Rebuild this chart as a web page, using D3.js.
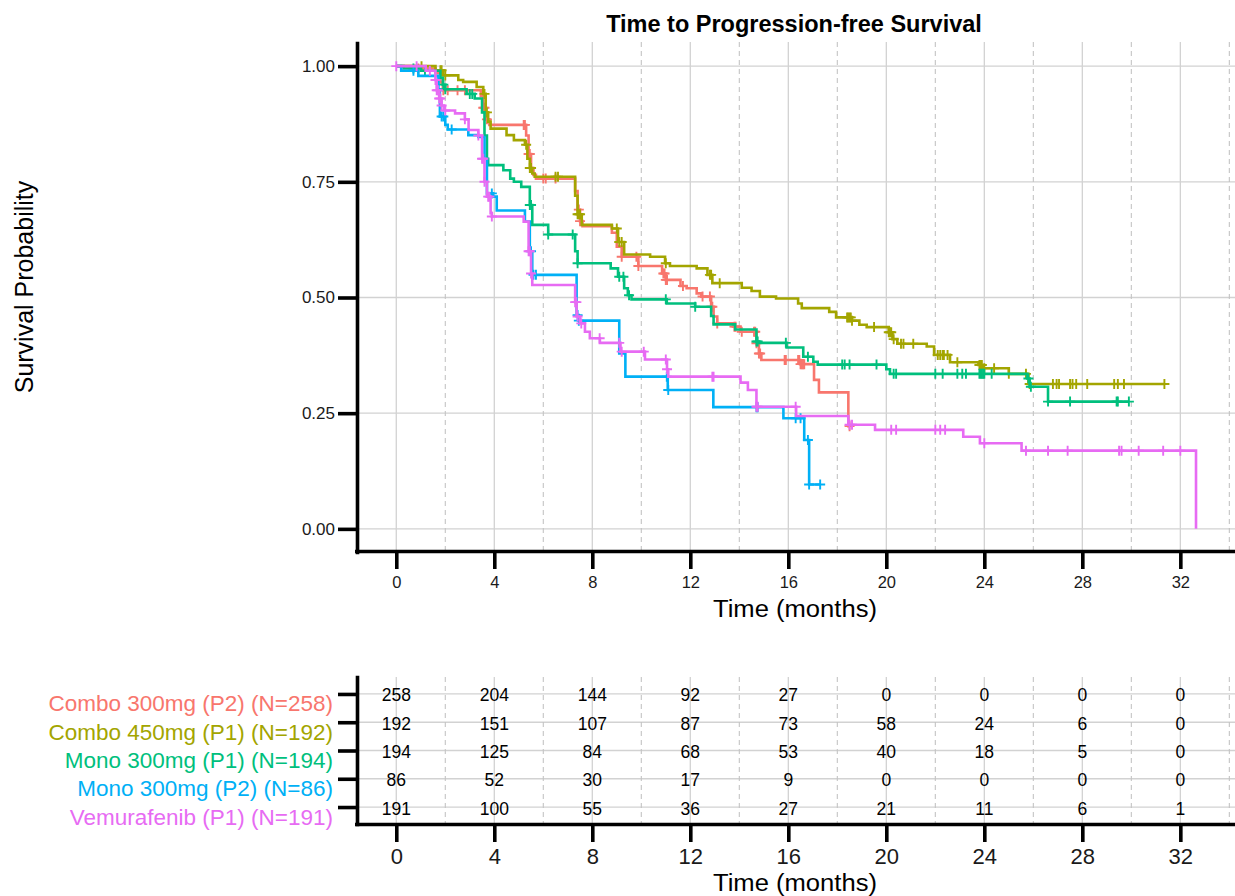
<!DOCTYPE html>
<html>
<head>
<meta charset="utf-8">
<script src="https://cdn.jsdelivr.net/npm/d3@7"></script>
<style>
  body { margin: 0; background: #ffffff; }
  svg { display: block; }
</style>
</head>
<body>
<svg id="chart" width="1235" height="896"></svg>
<script>
// ---- Groups ----
const groupLabels = ["Combo 300mg (P2)", "Combo 450mg (P1)", "Mono 300mg (P1)", "Mono 300mg (P2)", "Vemurafenib (P1)"];
const groupN = [258, 192, 194, 86, 191];
const groupColors = ["#F8766D", "#A3A500", "#00BF7D", "#00B0F6", "#E76BF3"];

// ---- Kaplan-Meier step estimates (time in months, survival probability) ----
const combo300Times = [0, 0.9, 1.6, 1.8, 1.9, 3.45, 3.55, 3.65, 3.8, 5.3, 5.4, 5.5, 5.6, 5.7, 7.3, 7.4, 7.5, 7.6, 8.8, 9.0, 9.2, 9.88, 10.85, 11.0, 11.6, 11.85, 12.26, 12.45, 12.85, 12.95, 13.1, 13.76, 14.05, 14.7, 14.8, 14.9, 16.48, 17.05, 17.25, 18.45];
const combo300Surv  = [1, 0.995, 0.985, 0.965, 0.948, 0.935, 0.91, 0.885, 0.873, 0.85, 0.81, 0.78, 0.765, 0.757, 0.73, 0.69, 0.665, 0.654, 0.64, 0.61, 0.588, 0.568, 0.552, 0.538, 0.525, 0.52, 0.509, 0.502, 0.48, 0.459, 0.444, 0.437, 0.426, 0.401, 0.379, 0.365, 0.356, 0.322, 0.295, 0.222];
const combo300Censor = [0.9, 1.92, 2.1, 2.5, 2.8, 3.55, 3.6, 3.7, 5.2, 5.25, 5.4, 5.45, 6.0, 6.1, 6.5, 7.45, 7.5, 9.2, 9.8, 9.88, 10.9, 10.95, 11.0, 11.05, 11.7, 12.5, 12.8, 12.85, 12.9, 13.1, 13.8, 13.85, 14.1, 14.6, 14.65, 14.7, 14.8, 14.85, 15.85, 15.9, 16.4, 16.45, 16.5, 16.55, 16.6, 16.65, 18.5];
const combo300End = 18.5;

const combo450Times = [0, 1.6, 1.92, 2.53, 2.73, 3.28, 3.55, 3.65, 3.75, 3.85, 4.5, 4.8, 5.25, 5.35, 5.45, 5.55, 5.65, 7.3, 7.4, 7.57, 8.8, 9.05, 9.3, 10.36, 10.97, 11.17, 12.26, 12.7, 12.9, 14.1, 14.5, 14.84, 15.5, 16.4, 16.55, 17.67, 17.95, 18.6, 18.9, 19.2, 20.1, 20.25, 20.45, 21.65, 21.95, 22.6, 23.76, 23.95, 25.0, 25.8];
const combo450Surv  = [1, 0.991, 0.98, 0.97, 0.966, 0.955, 0.94, 0.90, 0.88, 0.865, 0.851, 0.84, 0.83, 0.80, 0.78, 0.768, 0.761, 0.72, 0.68, 0.657, 0.649, 0.62, 0.593, 0.588, 0.574, 0.568, 0.563, 0.549, 0.531, 0.521, 0.514, 0.502, 0.498, 0.487, 0.477, 0.469, 0.457, 0.45, 0.441, 0.436, 0.425, 0.41, 0.40, 0.394, 0.376, 0.36, 0.354, 0.347, 0.335, 0.313];
const combo450Censor = [1.03, 1.8, 1.85, 2.0, 3.6, 3.7, 5.3, 5.45, 5.5, 6.5, 6.6, 7.4, 7.45, 7.5, 9.0, 9.1, 9.2, 11.0, 12.8, 12.85, 13.2, 18.4, 18.45, 18.5, 18.55, 18.6, 19.5, 20.1, 20.15, 20.2, 20.3, 20.6, 20.7, 21.1, 22.1, 22.2, 22.3, 22.35, 22.5, 22.9, 23.8, 23.85, 23.9, 24.0, 24.4, 25.0, 25.7, 25.85, 26.8, 26.95, 27.05, 27.5, 27.6, 27.75, 28.2, 29.3, 29.45, 29.7, 31.35];
const combo450End = 31.35;

const monoP1Times = [0, 0.3, 1.0, 1.8, 1.9, 2.0, 2.87, 3.2, 3.5, 3.6, 3.7, 3.75, 4.37, 4.65, 4.8, 5.1, 5.45, 5.55, 6.2, 7.3, 7.4, 8.75, 9.05, 9.3, 9.45, 9.6, 11.04, 12.2, 12.85, 12.95, 13.83, 14.7, 14.8, 15.93, 16.61, 17.02, 17.2, 20.0, 20.15, 25.75, 25.85, 26.6];
const monoP1Surv  = [1, 0.995, 0.99, 0.975, 0.96, 0.95, 0.94, 0.93, 0.90, 0.85, 0.80, 0.786, 0.775, 0.757, 0.75, 0.739, 0.70, 0.657, 0.636, 0.60, 0.574, 0.563, 0.545, 0.52, 0.505, 0.496, 0.487, 0.48, 0.46, 0.442, 0.431, 0.405, 0.402, 0.392, 0.372, 0.361, 0.355, 0.345, 0.335, 0.325, 0.307, 0.275];
const monoP1Censor = [0.7, 1.17, 1.92, 2.0, 3.0, 3.1, 5.45, 5.5, 6.2, 7.2, 7.4, 9.1, 9.27, 9.5, 11.0, 12.2, 14.7, 14.75, 15.9, 16.8, 18.2, 18.3, 18.5, 19.6, 20.3, 20.4, 22.0, 22.3, 22.9, 23.1, 23.25, 23.8, 23.85, 23.9, 23.95, 24.0, 24.3, 25.8, 25.9, 26.6, 27.5, 29.4, 29.45, 29.9];
const monoP1End = 29.9;

const monoP2Times = [0, 0.2, 0.9, 1.72, 1.78, 2.0, 2.1, 2.94, 3.35, 3.6, 3.7, 3.95, 4.1, 5.25, 5.45, 5.55, 7.36, 7.45, 9.1, 9.35, 11.08, 12.94, 15.8, 16.65, 16.85];
const monoP2Surv  = [1, 0.99, 0.979, 0.95, 0.891, 0.873, 0.863, 0.851, 0.847, 0.80, 0.725, 0.718, 0.688, 0.664, 0.60, 0.549, 0.462, 0.45, 0.379, 0.329, 0.30, 0.263, 0.239, 0.192, 0.096];
const monoP2Censor = [0.7, 1.85, 1.92, 2.26, 3.9, 5.5, 5.6, 5.7, 7.4, 7.45, 11.04, 11.1, 14.7, 14.75, 16.3, 16.5, 16.8, 16.85, 17.3];
const monoP2End = 17.3;

const vemuTimes = [0, 1.2, 1.6, 1.65, 1.75, 1.85, 1.95, 2.4, 2.8, 2.95, 3.35, 3.5, 3.6, 3.7, 3.85, 3.9, 5.2, 5.4, 5.5, 5.55, 7.3, 7.36, 7.5, 7.7, 7.9, 8.31, 9.15, 10.15, 11.05, 11.1, 14.05, 14.35, 14.7, 16.32, 18.45, 19.54, 23.14, 23.82, 25.52, 32.64];
const vemuSurv  = [1, 0.99, 0.97, 0.948, 0.93, 0.915, 0.904, 0.898, 0.885, 0.862, 0.85, 0.80, 0.75, 0.718, 0.682, 0.675, 0.664, 0.60, 0.552, 0.527, 0.49, 0.459, 0.444, 0.426, 0.412, 0.402, 0.383, 0.366, 0.345, 0.329, 0.316, 0.30, 0.264, 0.244, 0.225, 0.214, 0.199, 0.185, 0.169, 0];
const vemuCensor = [0, 0.83, 1.37, 1.6, 1.65, 1.7, 1.75, 1.8, 1.85, 2.0, 2.8, 3.35, 3.5, 3.55, 3.6, 3.75, 3.8, 3.9, 5.4, 5.45, 5.5, 7.3, 7.35, 7.4, 7.55, 8.3, 9.1, 9.2, 10.1, 11.0, 11.05, 12.9, 12.95, 14.7, 14.75, 16.3, 18.5, 18.6, 20.2, 20.4, 22.0, 22.2, 22.4, 24.0, 25.7, 26.6, 27.4, 29.5, 29.6, 30.3, 31.3, 32.0];
const vemuEnd = 32.64;

// ---- Number at risk ----
const riskTimes = [0, 4, 8, 12, 16, 20, 24, 28, 32];
const riskCombo300 = [258, 204, 144, 92, 27, 0, 0, 0, 0];
const riskCombo450 = [192, 151, 107, 87, 73, 58, 24, 6, 0];
const riskMonoP1   = [194, 125, 84, 68, 53, 40, 18, 5, 0];
const riskMonoP2   = [86, 52, 30, 17, 9, 0, 0, 0, 0];
const riskVemu     = [191, 100, 55, 36, 27, 21, 11, 6, 1];

// ---- Axis ticks ----
const timeTicks = [0, 4, 8, 12, 16, 20, 24, 28, 32];
const minorTimeTicks = [2, 6, 10, 14, 18, 22, 26, 30, 34];
const survTicks = [0, 0.25, 0.5, 0.75, 1];
const maxTime = 32.64;

// ---- Assemble series ----
const series = [
  { times: combo300Times, surv: combo300Surv, censor: combo300Censor, end: combo300End, risk: riskCombo300 },
  { times: combo450Times, surv: combo450Surv, censor: combo450Censor, end: combo450End, risk: riskCombo450 },
  { times: monoP1Times,   surv: monoP1Surv,   censor: monoP1Censor,   end: monoP1End,   risk: riskMonoP1 },
  { times: monoP2Times,   surv: monoP2Surv,   censor: monoP2Censor,   end: monoP2End,   risk: riskMonoP2 },
  { times: vemuTimes,     surv: vemuSurv,     censor: vemuCensor,     end: vemuEnd,     risk: riskVemu }
].map((s, i) => ({ ...s, label: groupLabels[i], n: groupN[i], color: groupColors[i] }));

const FONT = '"Liberation Sans", Arial, Helvetica, sans-serif';
const W = 1235;
const svg = d3.select("#chart");

// shared time scale (5% expansion on each side)
const pad = maxTime * 0.05;
const x = d3.scaleLinear().domain([-pad, maxTime + pad]).range([356.3, 1236]);

// ================= Survival panel =================
const panelTop = 43, panelBottom = 552, panelLeft = 357;
const y = d3.scaleLinear().domain([-0.05, 1.05]).range([panelBottom, panelTop]);

const grid = svg.append("g");
grid.selectAll("line.hy").data(survTicks).join("line")
  .attr("x1", panelLeft).attr("x2", W)
  .attr("y1", d => y(d)).attr("y2", d => y(d))
  .attr("stroke", "#d2d2d2").attr("stroke-width", 1.3);
grid.selectAll("line.vx").data(timeTicks).join("line")
  .attr("x1", d => x(d)).attr("x2", d => x(d))
  .attr("y1", panelTop - 1).attr("y2", panelBottom)
  .attr("stroke", "#d2d2d2").attr("stroke-width", 1.3);
grid.selectAll("line.vm").data(minorTimeTicks).join("line")
  .attr("x1", d => x(d)).attr("x2", d => x(d))
  .attr("y1", panelTop - 1).attr("y2", panelBottom)
  .attr("stroke", "#c4c4c4").attr("stroke-width", 1.1)
  .attr("stroke-dasharray", "5,4");

// KM curves
const stepLine = d3.line().x(d => x(d[0])).y(d => y(d[1])).curve(d3.curveStepAfter);
const curves = svg.append("g");
series.forEach(s => {
  const pts = s.times.map((t, i) => [t, s.surv[i]]);
  pts.push([s.end, s.surv[s.surv.length - 1]]);
  curves.append("path")
    .attr("d", stepLine(pts))
    .attr("fill", "none")
    .attr("stroke", s.color)
    .attr("stroke-width", 2.6)
    .attr("stroke-linejoin", "miter");
  const survAt = t => s.surv[Math.max(0, d3.bisectRight(s.times, t) - 1)];
  curves.append("g").selectAll("path").data(s.censor).join("path")
    .attr("transform", t => `translate(${x(t)},${y(survAt(t))})`)
    .attr("d", "M-5,0H5M0,-5V5")
    .attr("stroke", s.color)
    .attr("stroke-width", 1.9)
    .attr("fill", "none");
});

function styleAxis(g, fontSize) {
  g.attr("font-family", FONT).attr("font-size", fontSize);
  g.select(".domain").attr("stroke", "#000").attr("stroke-width", 3.6).attr("stroke-linecap", "square");
  g.selectAll(".tick line").attr("stroke", "#000").attr("stroke-width", 3.6);
  g.selectAll(".tick text").attr("fill", "#1a1a1a");
}

const gx = svg.append("g").attr("transform", `translate(0,${panelBottom - 1})`)
  .call(d3.axisBottom(x).tickValues(timeTicks).tickSize(18).tickSizeOuter(0).tickPadding(7));
styleAxis(gx, 16.5);

const gy = svg.append("g").attr("transform", `translate(${panelLeft},0)`)
  .call(d3.axisLeft(y).tickValues(survTicks).tickFormat(d3.format(".2f")).tickSize(19).tickSizeOuter(0).tickPadding(3));
styleAxis(gy, 17);

svg.append("text")
  .attr("x", 794).attr("y", 32)
  .attr("text-anchor", "middle")
  .attr("font-family", FONT).attr("font-weight", "bold").attr("font-size", 23.5)
  .attr("fill", "#000")
  .text("Time to Progression-free Survival");

svg.append("text")
  .attr("x", 795).attr("y", 617)
  .attr("text-anchor", "middle")
  .attr("font-family", FONT).attr("font-size", 23)
  .attr("textLength", 164).attr("lengthAdjust", "spacingAndGlyphs")
  .attr("fill", "#000")
  .text("Time (months)");

svg.append("text")
  .attr("transform", "translate(33,287) rotate(-90)")
  .attr("text-anchor", "middle")
  .attr("font-family", FONT).attr("font-size", 25)
  .attr("fill", "#000")
  .text("Survival Probability");

// ================= Number-at-risk table =================
const tableTop = 677, tableBottom = 824;
const ty = d3.scalePoint().domain(groupLabels).range([tableTop, tableBottom]).padding(0.6);

const tgrid = svg.append("g");
tgrid.selectAll("line.hr").data(groupLabels).join("line")
  .attr("x1", panelLeft).attr("x2", W)
  .attr("y1", d => ty(d)).attr("y2", d => ty(d))
  .attr("stroke", "#d2d2d2").attr("stroke-width", 1.3);
tgrid.selectAll("line.vx").data(timeTicks).join("line")
  .attr("x1", d => x(d)).attr("x2", d => x(d))
  .attr("y1", tableTop).attr("y2", tableBottom)
  .attr("stroke", "#d2d2d2").attr("stroke-width", 1.3);
tgrid.selectAll("line.vm").data(minorTimeTicks).join("line")
  .attr("x1", d => x(d)).attr("x2", d => x(d))
  .attr("y1", tableTop).attr("y2", tableBottom)
  .attr("stroke", "#c4c4c4").attr("stroke-width", 1.1)
  .attr("stroke-dasharray", "5,4");

const cells = svg.append("g").attr("font-family", FONT).attr("font-size", 17.5).attr("fill", "#000");
series.forEach(s => {
  cells.append("g").selectAll("text").data(riskTimes.map((t, i) => [t, s.risk[i]])).join("text")
    .attr("x", d => x(d[0]))
    .attr("y", ty(s.label) + 7.5)
    .attr("text-anchor", "middle")
    .text(d => d[1]);
});

const tx = svg.append("g").attr("transform", `translate(0,${tableBottom})`)
  .call(d3.axisBottom(x).tickValues(timeTicks).tickSize(18).tickSizeOuter(0).tickPadding(6.5));
styleAxis(tx, 22);

const tyAxis = svg.append("g").attr("transform", `translate(${panelLeft},0)`)
  .call(d3.axisLeft(ty).tickSize(19).tickSizeOuter(0).tickPadding(5)
    .tickFormat(d => `${d} (N=${groupN[groupLabels.indexOf(d)]})`));
styleAxis(tyAxis, 22.5);
tyAxis.selectAll(".tick text")
  .attr("fill", d => groupColors[groupLabels.indexOf(d)])
  .attr("dy", 17);

svg.append("text")
  .attr("x", 795).attr("y", 891)
  .attr("text-anchor", "middle")
  .attr("font-family", FONT).attr("font-size", 23)
  .attr("textLength", 164).attr("lengthAdjust", "spacingAndGlyphs")
  .attr("fill", "#000")
  .text("Time (months)");
</script>
</body>
</html>
